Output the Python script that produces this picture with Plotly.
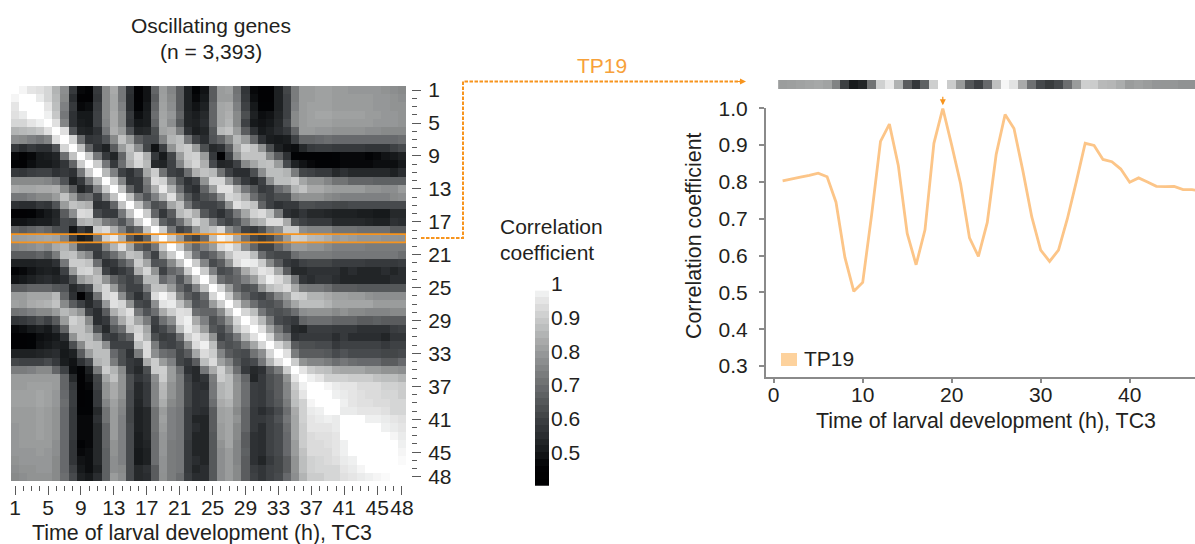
import plotly.graph_objects as go

hours = list(range(1, 49))
tick_hours = [1, 5, 9, 13, 17, 21, 25, 29, 33, 37, 41, 45, 48]
minor_hours = [h for h in hours if h not in tick_hours]

# Upper triangle of the correlation matrix, in hundredths; row i starts at column i
r01 = [100,98,95,94,92,85,77,58,47,46,58,76,83,72,56,45,49,68,80,75,66,52,46,49,66,80,81,71,57,47,45,45,52,61,73,80,80,81,81,80,80,79,79,79,79,78,77,76]
r02 = [100,100,96,92,86,76,55,45,45,57,76,82,72,55,45,49,66,81,76,66,52,47,50,66,80,80,72,58,48,45,45,52,60,73,80,80,81,81,80,80,80,80,80,79,79,78,77]
r03 = [100,100,95,87,74,58,47,48,59,76,82,74,55,46,50,68,81,77,66,52,49,52,68,82,83,74,60,50,46,46,52,60,74,80,81,81,81,80,80,80,80,80,79,79,78,78]
r04 = [100,97,89,72,56,50,50,60,76,83,76,58,48,51,70,82,79,68,53,51,54,68,82,84,76,63,52,48,49,53,60,76,80,81,82,82,81,81,81,81,80,80,79,79,78]
r05 = [100,94,75,56,51,50,60,75,83,76,57,50,51,68,82,77,65,53,52,55,68,82,85,76,60,50,49,50,54,62,76,80,81,81,81,80,80,80,80,80,79,79,79,78]
r06 = [100,94,64,53,52,56,72,84,80,64,53,54,63,81,83,73,56,51,53,65,86,88,80,66,56,50,52,55,58,68,80,80,79,79,78,78,78,78,77,77,76,76,76]
r07 = [100,92,70,57,58,64,76,88,80,66,62,62,74,85,87,72,60,55,64,68,76,86,80,68,56,51,50,51,60,68,68,69,70,69,69,69,69,69,69,69,69,70]
r08 = [100,88,68,56,52,66,80,88,77,61,49,60,78,88,90,80,63,54,56,66,83,91,88,78,63,52,49,48,54,58,59,59,58,58,58,58,57,57,57,60,62]
r09 = [100,90,72,58,53,68,86,93,84,58,50,61,80,90,91,80,58,45,60,78,88,88,88,76,66,56,46,45,45,45,45,46,47,47,47,46,47,49,50,52]
r10 = [100,90,72,58,70,84,92,86,54,53,60,75,88,92,84,62,53,54,60,76,82,87,88,80,62,52,49,47,46,46,46,47,47,47,47,48,48,48,50]
r11 = [100,86,74,60,56,62,82,90,71,60,58,70,84,88,86,71,60,55,55,63,77,87,87,85,73,61,60,58,58,54,56,54,54,54,54,54,52,55]
r12 = [100,90,75,57,58,73,93,91,75,63,56,60,78,92,92,79,66,58,54,60,77,87,87,90,82,78,78,75,71,71,68,68,68,67,67,67,67]
r13 = [100,88,68,58,70,84,96,85,70,58,55,68,80,94,94,84,72,65,58,60,69,73,85,88,83,83,81,80,80,80,80,78,78,77,77,80]
r14 = [100,88,72,64,74,85,94,78,65,58,63,66,77,92,90,83,70,63,60,63,63,76,78,78,78,76,75,74,74,74,74,74,74,76,77]
r15 = [100,88,74,63,66,82,88,72,62,60,60,63,78,94,91,88,68,60,56,58,58,63,63,62,62,61,61,62,62,62,62,62,62,62]
r16 = [100,90,68,58,66,86,90,84,65,60,56,62,72,82,91,93,87,73,56,54,57,54,54,53,52,52,52,51,51,50,50,54,54]
r17 = [100,88,67,62,70,82,92,86,74,64,60,64,73,82,85,93,93,83,63,60,58,58,58,54,54,54,54,53,52,52,56,55]
r18 = [100,90,72,60,64,78,86,88,93,77,70,60,58,63,73,77,90,90,77,75,75,75,71,71,71,70,70,70,70,66,66]
r19 = [100,90,79.5,65,60,69,87.5,98.3,94.5,83,70.5,61.5,58.4,61.5,70,80,90.5,89.9,86.1,85.5,83.5,79.9,81.1,80,78.8,78.7,78.8,77.9,77.9,77.5]
r20 = [100,90,76,68,74,80,93,96,90,77,68,60,60,68,74,80,80,78,78,76,74,74,74,74,73,73,73,73,73]
r21 = [100,88,72,64,68,76,88,94,94,87,70,63,61,61,70,73,73,73,73,72,72,72,72,72,72,72,72,70]
r22 = [100,90,75,62,66,78,93,97,96,90,76,66,58,56,60,61,61,61,59,59,59,59,58,58,58,58,59]
r23 = [100,90,74,62,64,70,83,90,95,93,82,66,54,54,56,56,56,56,53,55,53,53,53,55,53,55]
r24 = [100,88,70,66,68,74,80,90,97,93,87,72,57,55,57,57,55,53,53,53,53,53,53,55,55]
r25 = [100,92,80,68,63,65,78,87,90,93,83,73,72,72,70,66,66,66,65,65,65,65,65,65]
r26 = [100,90,76,68,62,60,66,75,81,91,90,85,85,83,81,81,80,80,78,77,77,77,77]
r27 = [100,90,78,70,64,63,66,75,82,87,87,87,85,82,82,82,82,82,80,80,80,80]
r28 = [100,92,87,72,65,63,65,70,77,78,78,78,76,78,76,76,75,75,75,76,76]
r29 = [100,94,86,73,62,60,58,68,70,70,70,68,68,68,66,66,67,66,66,66]
r30 = [100,94,82,71,62,54,53,59,59,59,58,58,58,56,56,56,56,59,60]
r31 = [100,92,77,72,56,58,58,58,58,55,58,55,55,55,55,53,57,57]
r32 = [100,92,85,66,63,63,62,62,58,60,60,60,60,60,58,60,60]
r33 = [100,94,73,66,66,66,65,62,64,62,62,62,62,61,61,62]
r34 = [100,90,78,75,75,73,70,72,70,69,69,69,66,66,69]
r35 = [100,95,90,88,87,83,82,82,82,80,80,78,78,77]
r36 = [100,97,95,91,91,91,90,90,90,88,87,87,85]
r37 = [100,100,98,96,95,95,93,93,93,91,91,90]
r38 = [100,100,97,96,95,94,93,93,92,92,90]
r39 = [100,100,97,95,94,94,93,93,92,92]
r40 = [100,96,96,95,95,95,94,92,92]
r41 = [100,100,100,97,97,96,95,94]
r42 = [100,100,100,100,97,96,95]
r43 = [100,100,100,100,98,96]
r44 = [100,100,100,100,97]
r45 = [100,100,100,98]
r46 = [100,100,99]
r47 = [100,100]
r48 = [100]
upper = [r01,r02,r03,r04,r05,r06,r07,r08,r09,r10,r11,r12,r13,r14,r15,r16,r17,r18,r19,r20,r21,r22,r23,r24,
         r25,r26,r27,r28,r29,r30,r31,r32,r33,r34,r35,r36,r37,r38,r39,r40,r41,r42,r43,r44,r45,r46,r47,r48]

# TP19 profile
tp19 = [0.803,0.807,0.813,0.818,0.824,0.814,0.745,0.595,0.503,0.527,0.71,0.91,0.957,0.845,0.66,0.575,
        0.67,0.905,1.0,0.90,0.795,0.648,0.598,0.69,0.875,0.983,0.945,0.83,0.705,0.615,0.584,0.615,
        0.70,0.80,0.905,0.899,0.861,0.855,0.835,0.799,0.811,0.80,0.788,0.787,0.788,0.779,0.779,0.775]
scale_levels = [0.41,0.43,0.45,0.47,0.49,0.51,0.53,0.55,0.57,0.59,0.61,0.63,0.65,0.67,0.69,0.71,0.73,0.75,
                0.77,0.79,0.81,0.83,0.85,0.87,0.89,0.91,0.93,0.95,0.97]

matrix = [[0.0] * 48 for _ in range(48)]
for i, row in enumerate(upper):
    assert len(row) == 48 - i, (i + 1, len(row))
    for k, v in enumerate(row):
        matrix[i][i + k] = v / 100
        matrix[i + k][i] = v / 100
for j, v in enumerate(tp19):
    matrix[18][j] = v
    matrix[j][18] = v

W, H = 1195, 544
px = lambda x: x / W
py = lambda y: 1 - y / H
FONT = "Liberation Sans, Arial, sans-serif"
INK = "#231f20"
TICK = "#5a5a5a"
ORANGE = "#f7941d"
LINE = "#fcc588"
AXIS = "#8a8a8a"
colorscale = [[0, "#000000"], [0.1, "#020305"], [1/6, "#16191b"], [2/6, "#3e4144"], [3/6, "#6c6e70"],
              [4/6, "#9a9c9c"], [5/6, "#cbcccc"], [1, "#ffffff"]]

fig = go.Figure()
fig.add_trace(go.Heatmap(x=hours, y=hours, z=matrix, coloraxis="coloraxis", xaxis="x", yaxis="y",
                         xgap=0, ygap=0))
fig.add_trace(go.Heatmap(x=hours, y=["TP19"], z=[tp19], coloraxis="coloraxis", xaxis="x2", yaxis="y3"))
fig.add_trace(go.Scatter(x=hours, y=tp19, mode="lines", line=dict(color=LINE, width=2.8),
                         cliponaxis=False, xaxis="x2", yaxis="y2", showlegend=False))
fig.add_trace(go.Heatmap(x=[0], y=scale_levels, z=[[v] for v in scale_levels], coloraxis="coloraxis",
                         xaxis="x3", yaxis="y4"))

txt = dict(family=FONT, size=21, color=INK)
big = dict(family=FONT, size=21.4, color=INK)
fig.update_layout(
    width=W, height=H, margin=dict(l=0, r=0, t=0, b=0, autoexpand=False), paper_bgcolor="white", plot_bgcolor="white",
    font=txt, showlegend=False,
    coloraxis=dict(cmin=0.4, cmax=1, colorscale=colorscale, showscale=False),
    xaxis=dict(domain=[px(11), px(406)], range=[0.5, 48.5], anchor="free", position=py(484.5), side="bottom",
               tickvals=tick_hours, ticks="outside", ticklen=9, tickwidth=1.3, tickcolor=TICK, showgrid=False,
               zeroline=False, showline=False, ticklabelstandoff=-5, tickangle=0, automargin=False,
               minor=dict(tickvals=minor_hours, ticks="outside", ticklen=5, tickwidth=1, tickcolor=TICK)),
    yaxis=dict(domain=[py(481), py(86)], range=[48.5, 0.5], anchor="free", position=px(411), side="right",
               tickvals=tick_hours, ticks="outside", ticklen=9, tickwidth=1.3, tickcolor=TICK, showgrid=False,
               zeroline=False, showline=False, ticklabelstandoff=3, automargin=False,
               minor=dict(tickvals=minor_hours, ticks="outside", ticklen=5, tickwidth=1, tickcolor=TICK)),
    xaxis2=dict(domain=[px(765.7), 1], range=[-0.9, 47.34], anchor="y2", tickvals=[0, 10, 20, 30, 40],
                ticks="outside", ticklen=5, tickwidth=1.5, tickcolor=AXIS, showline=True, linecolor=AXIS,
                linewidth=1.5, showgrid=False, zeroline=False, tickangle=0, automargin=False, ticklabelstandoff=-7),
    yaxis2=dict(domain=[py(376.7), py(108.3)], range=[0.271, 1.0], anchor="x2",
                tickvals=[0.3, 0.4, 0.5, 0.6, 0.7, 0.8, 0.9, 1.0], tickformat=".1f", ticks="outside", ticklen=5,
                tickwidth=1.5, tickcolor=AXIS, showline=True, linecolor=AXIS, linewidth=1.5, showgrid=False,
                zeroline=False, automargin=False, ticklabelstandoff=7),
    yaxis3=dict(domain=[py(89), py(80)], anchor="x2", visible=False),
    xaxis3=dict(domain=[px(535), px(549)], anchor="y4", visible=False, range=[-0.5, 0.5]),
    yaxis4=dict(domain=[py(486), py(284)], range=[0.4, 1.0], anchor="x3", side="right",
                tickvals=[0.5, 0.6, 0.7, 0.8, 0.9, 1.0], ticktext=["0.5", "0.6", "0.7", "0.8", "0.9", "1"],
                ticks="", showgrid=False, zeroline=False, showline=False, ticklabelstandoff=1, automargin=False),
)

def note(text, x, y, **kw):
    fig.add_annotation(text=text, x=px(x), y=py(y), xref="paper", yref="paper", showarrow=False, font=kw.pop("font", txt),
                       xanchor=kw.pop("xanchor", "center"), yanchor="middle", **kw)

note("Oscillating genes", 211, 25.5)
note("(n = 3,393)", 211, 51.5)
note("Time of larval development (h), TC3", 202, 533, font=big)
note("Time of larval development (h), TC3", 986.5, 420.5, font=big)
note("Correlation coefficient", 694, 236, textangle=-90, font=big)
note("Correlation", 551, 226)
note("coefficient", 547, 252)
note("TP19", 602, 65, font=dict(family=FONT, size=21, color="#f7a13a"))
note("TP19", 802, 358, xanchor="left")

fig.add_annotation(x=19, y=1.0, xref="x2", yref="y2", ax=0, ay=-13, axref="pixel", ayref="pixel", text="",
                   showarrow=True, arrowhead=2, arrowsize=1, arrowwidth=1.2, arrowcolor=ORANGE, standoff=3)
fig.add_annotation(x=px(746), y=py(81.5), xref="paper", yref="paper", ax=-10, ay=0, text="", showarrow=True,
                   arrowhead=2, arrowsize=1, arrowwidth=1.2, arrowcolor=ORANGE)

fig.add_shape(type="rect", xref="x", yref="y", x0=0.5, x1=48.5, y0=18.5, y1=19.5,
              line=dict(color=ORANGE, width=1.6), fillcolor="rgba(0,0,0,0)")
path = f"M {px(421)} {py(238)} L {px(463)} {py(238)} L {px(463)} {py(81.5)} L {px(741)} {py(81.5)}"
fig.add_shape(type="path", xref="paper", yref="paper", path=path,
              line=dict(color=ORANGE, width=2, dash="3.5px,1.5px"))
fig.add_shape(type="rect", xref="paper", yref="paper", x0=px(781), x1=px(797), y0=py(366), y1=py(353),
              line=dict(width=0), fillcolor="#fdd29d")

fig.write_html("out.html", config=dict(displayModeBar=False),
               post_script="document.body.style.margin='0';document.body.style.overflow='hidden';")
